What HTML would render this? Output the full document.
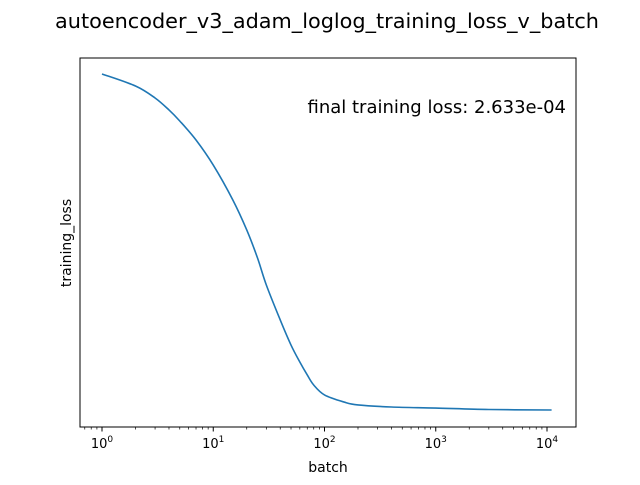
<!DOCTYPE html>
<html><head><meta charset="utf-8"><style>
body{margin:0;background:#fff;}
svg{font-family:"DejaVu Sans","Liberation Sans",sans-serif;}
</style></head><body>
<svg id="chart" width="640" height="480" viewBox="0 0 640 480">
<rect width="640" height="480" fill="#fff"/>
<text x="327" y="28" font-size="20.8" text-anchor="middle">autoencoder_v3_adam_loglog_training_loss_v_batch</text>
<rect x="80" y="58" width="496" height="369" fill="none" stroke="#000" stroke-width="1"/>
<g id="xticks"></g>
<path id="line" fill="none" stroke="#1f77b4" stroke-width="1.6" stroke-linejoin="round"/>
<text x="566" y="113" font-size="18" text-anchor="end">final training loss: 2.633e-04</text>
<text x="328" y="472" font-size="14" text-anchor="middle">batch</text>
<text transform="translate(71,243) rotate(-90)" font-size="14" text-anchor="middle">training_loss</text>
</svg>
<script>
const batches=[1,2,3,4,5,7,10,15,20,25,30,40,50,60,70,80,100,150,200,400,1000,3000,11000];
const losses=[0.2633,0.2057,0.1608,0.1257,0.1002,0.0678,0.0405,0.01975,0.01066,0.00599,0.00344,0.001677,0.001001,0.000706,0.000541,0.000440,0.000359,0.000310,0.000292,0.000280,0.000274,0.000266,0.0002633];
const xTickExps=[0,1,2,3,4];
const X0=102,XD=111.25;
const YEnd=410,YD=112,LEnd=Math.log10(2.633e-4);
function xs(b){return X0+Math.log10(b)*XD;}
function ys(l){return YEnd-(Math.log10(l)-LEnd)*YD;}
const ns="http://www.w3.org/2000/svg";
const P=batches.map((b,i)=>[xs(b),ys(losses[i])]);
let d="M"+P[0][0].toFixed(2)+","+P[0][1].toFixed(2);
for(let i=0;i<P.length-1;i++){
  const p0=P[Math.max(0,i-1)],p1=P[i],p2=P[i+1],p3=P[Math.min(P.length-1,i+2)];
  const c1=[p1[0]+(p2[0]-p0[0])/6,p1[1]+(p2[1]-p0[1])/6];
  const c2=[p2[0]-(p3[0]-p1[0])/6,p2[1]-(p3[1]-p1[1])/6];
  d+="C"+c1[0].toFixed(2)+","+c1[1].toFixed(2)+" "+c2[0].toFixed(2)+","+c2[1].toFixed(2)+" "+p2[0].toFixed(2)+","+p2[1].toFixed(2);
}
document.getElementById('line').setAttribute('d',d);
const g=document.getElementById('xticks');
xTickExps.forEach(e=>{
  const x=xs(Math.pow(10,e));
  const t=document.createElementNS(ns,'line');
  
  
  t.setAttribute('x1',x);t.setAttribute('x2',x);t.setAttribute('y1',427);t.setAttribute('y2',431.5);t.setAttribute('stroke','#000');
  g.appendChild(t);
  const tx=document.createElementNS(ns,'text');
  
  
  tx.setAttribute('x',x);tx.setAttribute('y',448);tx.setAttribute('font-size','13');tx.setAttribute('text-anchor','middle');
  tx.innerHTML='10<tspan font-size="9" dy="-6">'+e+'</tspan>';
  g.appendChild(tx);
});
for(let e=-1;e<=4;e++){for(let m=2;m<=9;m++){
  const v=m*Math.pow(10,e);const x=xs(v);
  if(x<80||x>576)continue;
  const t=document.createElementNS(ns,'line');
  
  
  t.setAttribute('x1',x);t.setAttribute('x2',x);t.setAttribute('y1',427);t.setAttribute('y2',429.5);t.setAttribute('stroke','#000');t.setAttribute('stroke-width','0.7');
  g.appendChild(t);
}}
</script>
</body></html>
